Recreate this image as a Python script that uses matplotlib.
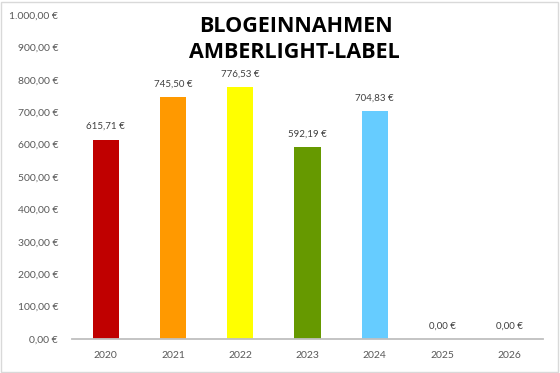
import matplotlib.pyplot as plt
from matplotlib.patches import Rectangle
from matplotlib.ticker import FuncFormatter

years = ["2020", "2021", "2022", "2023", "2024", "2025", "2026"]
income = [615.71, 745.50, 776.53, 592.19, 704.83, 0.0, 0.0]
bar_colors = ["#C00000", "#FF9900", "#FFFF00", "#669900", "#66CCFF", "#A5A5A5", "#A5A5A5"]
title_lines = ["BLOGEINNAHMEN", "AMBERLIGHT-LABEL"]

TEXT_GRAY = "#595959"
plt.rcParams["font.family"] = ["Lato", "DejaVu Sans"]


def euro(v, pos=None):
    s = f"{v:,.2f}".replace(",", "X").replace(".", ",").replace("X", ".")
    return s + " €"


fig = plt.figure(figsize=(5.6, 3.73), dpi=100)
ax = fig.add_axes([72 / 560, (373 - 339) / 373, (543 - 72) / 560, (339 - 15) / 373])

x = range(len(years))
ax.bar(x, income, width=0.39, color=bar_colors)
for xi, v in zip(x, income):
    ax.annotate(euro(v), (xi, v), xytext=(0, 6), textcoords="offset points",
                ha="center", va="bottom", fontsize=7, color="#404040")

ax.set_xlim(-0.5, len(years) - 0.5)
ax.set_ylim(0, 1000)
ax.set_yticks(range(0, 1001, 100))
ax.yaxis.set_major_formatter(FuncFormatter(euro))
ax.set_xticks(list(x))
ax.set_xticklabels(years)
ax.tick_params(axis="both", length=0, labelsize=7.5, colors=TEXT_GRAY)
ax.tick_params(axis="y", pad=10)
ax.tick_params(axis="x", pad=9)

for side in ["top", "right", "left"]:
    ax.spines[side].set_visible(False)
ax.spines["bottom"].set_color("#BFBFBF")
ax.spines["bottom"].set_linewidth(1.3)

title_font = ["Open Sans", "DejaVu Sans"]
fig.text(296 / 560, 1 - 26 / 373, title_lines[0], ha="center", va="center",
         fontsize=15.5, fontweight="bold", family=title_font)
fig.text(294 / 560, 1 - 53 / 373, title_lines[1], ha="center", va="center",
         fontsize=15.5, fontweight="bold", family=title_font)

fig.patches.append(Rectangle((0.002, 0.003), 0.995, 0.992, transform=fig.transFigure,
                             fill=False, edgecolor="#D9D9D9", linewidth=1))

fig.savefig("out.png", dpi=100)
